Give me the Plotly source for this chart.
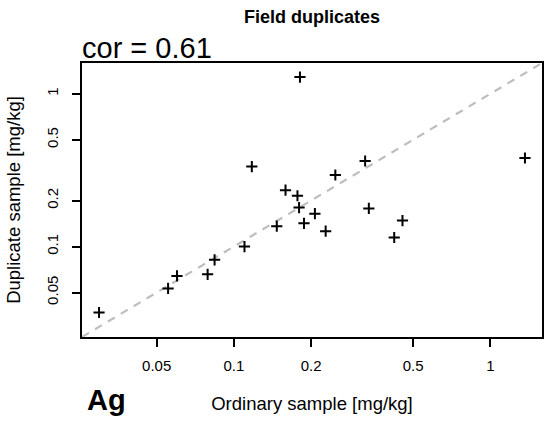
import numpy as np
import plotly.graph_objects as go

# Ag field duplicates (mg/kg)
ordinary = [0.0298, 0.0554, 0.0600, 0.0790, 0.0841, 0.110, 0.1175, 0.147,
            0.159, 0.177, 0.1796, 0.181, 0.1877, 0.207, 0.228, 0.2487,
            0.325, 0.336, 0.422, 0.4545, 1.365]
duplicate = [0.0370, 0.0532, 0.0642, 0.0658, 0.0818, 0.100, 0.334, 0.136,
             0.234, 0.215, 0.180, 1.287, 0.142, 0.164, 0.126, 0.294,
             0.363, 0.1776, 0.1146, 0.148, 0.380]
tick_vals = [0.05, 0.1, 0.2, 0.5, 1]
tick_text = ["0.05", "0.1", "0.2", "0.5", "1"]
element = "Ag"
cor_label = "cor = 0.61"

FONT = "Liberation Sans, Arial, Helvetica, sans-serif"

# common log range for both axes, padded 4% like R
allv = np.log10(ordinary + duplicate)
lo, hi = allv.min(), allv.max()
pad = 0.04 * (hi - lo)
rng = [lo - pad, hi + pad]

fig = go.Figure()

# 1:1 line
fig.add_trace(go.Scatter(
    x=[10 ** (rng[0] - 0.1), 10 ** (rng[1] + 0.1)],
    y=[10 ** (rng[0] - 0.1), 10 ** (rng[1] + 0.1)],
    mode="lines",
    line=dict(color="#bebebe", width=2.2, dash="8px,7px"),
    hoverinfo="skip",
    showlegend=False
))

fig.add_trace(go.Scatter(
    x=ordinary,
    y=duplicate,
    mode="markers",
    marker=dict(symbol="cross-thin", size=8, color="black",
                line=dict(color="black", width=2)),
    showlegend=False
))

axis = dict(
    type="log",
    range=rng,
    tickvals=tick_vals,
    ticktext=tick_text,
    ticks="outside",
    ticklen=8,
    tickwidth=1.5,
    tickcolor="black",
    showline=True,
    linecolor="black",
    linewidth=1.6,
    mirror=True,
    showgrid=False,
    zeroline=False,
    tickfont=dict(family=FONT, size=15, color="black"),
    automargin=False,
)

fig.update_layout(
    width=544,
    height=423,
    margin=dict(l=82, r=2, t=63, b=86),
    plot_bgcolor="white",
    paper_bgcolor="white",
    font=dict(family=FONT, color="black"),
    title=dict(text="<b>Field duplicates</b>", x=(82 + 542) / 2 / 544,
               xanchor="center", y=1 - 17 / 423, yanchor="middle",
               font=dict(family=FONT, size=18, color="black")),
    xaxis=dict(axis, title=dict(text="Ordinary sample [mg/kg]",
                                font=dict(family=FONT, size=18.5),
                                standoff=24),
               ticklabelstandoff=6),
    yaxis=dict(axis, tickangle=-90,
               title=dict(text="Duplicate sample [mg/kg]",
                          font=dict(family=FONT, size=18.5),
                          standoff=19),
               ticklabelstandoff=8),
)

fig.add_annotation(
    text=cor_label, xref="paper", yref="paper", x=-2 / 460, y=1,
    xanchor="left", yanchor="bottom", yshift=-3, showarrow=False,
    font=dict(family=FONT, size=29, color="black")
)
fig.add_annotation(
    text="<b>" + element + "</b>", xref="paper", yref="paper",
    x=3 / 460, y=-63 / 274, xanchor="left", yanchor="middle",
    showarrow=False, font=dict(family=FONT, size=29, color="black")
)

fig.write_html("out.html",
               config={"displayModeBar": False},
               post_script="document.body.style.margin='0';")
